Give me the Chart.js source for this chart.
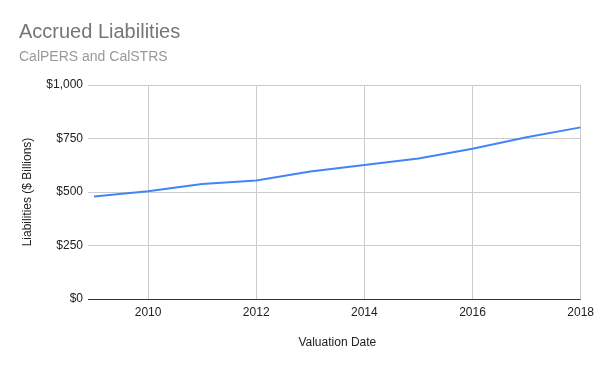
<!DOCTYPE html>
<html>
<head>
<meta charset="utf-8">
<script src="https://cdn.jsdelivr.net/npm/chart.js@4"></script>
<style>
  html, body { margin: 0; padding: 0; background: #fff; }
  #wrap { width: 600px; height: 371px; position: relative; }
</style>
</head>
<body>
<div id="wrap"><canvas id="c" width="600" height="371"></canvas></div>
<script>
const titleText = "Accrued Liabilities";
const subtitleText = "CalPERS and CalSTRS";
const xAxisTitle = "Valuation Date";
const yAxisTitle = "Liabilities ($ Billions)";
const years = [2009, 2010, 2011, 2012, 2013, 2014, 2015, 2016, 2017, 2018];
const liabilities = [479, 503, 537, 554, 596, 626, 657, 702, 756, 802];
const xTicks = [2010, 2012, 2014, 2016, 2018];
const yTicks = [0, 250, 500, 750, 1000];

const FONT = "'Liberation Sans', Arial, sans-serif";

const titlePlugin = {
  id: 'headerText',
  afterDraw(chart) {
    const ctx = chart.ctx;
    ctx.save();
    ctx.textBaseline = 'alphabetic';
    ctx.textAlign = 'left';
    ctx.fillStyle = '#757575';
    ctx.font = "20px " + FONT;
    ctx.fillText(titleText, 19, 37.5);
    ctx.fillStyle = '#999999';
    ctx.font = "14px " + FONT;
    ctx.fillText(subtitleText, 19, 61);
    ctx.restore();
  }
};

new Chart(document.getElementById('c'), {
  type: 'line',
  data: {
    datasets: [{
      data: years.map((y, i) => ({ x: y, y: liabilities[i] })),
      borderColor: '#4285F4',
      borderWidth: 2,
      pointRadius: 0,
      tension: 0,
      fill: false
    }]
  },
  options: {
    responsive: false,
    animation: false,
    devicePixelRatio: 1,
    layout: { padding: { top: 85, right: 18, left: 0, bottom: 0 } },
    plugins: { legend: { display: false }, tooltip: { enabled: false }, title: { display: false } },
    scales: {
      x: {
        type: 'linear',
        min: years[0],
        max: years[years.length - 1],
        afterBuildTicks(scale) { scale.ticks = xTicks.map(v => ({ value: v })); },
        afterFit(scale) { scale.height = 72; },
        grid: { color: '#cccccc', drawTicks: false, lineWidth: 1 },
        border: { display: false },
        ticks: {
          color: '#222222',
          font: { family: FONT, size: 12 },
          padding: 6,
          maxRotation: 0,
          callback: v => String(v)
        },
        title: {
          display: true,
          text: xAxisTitle,
          color: '#222222',
          font: { family: FONT, size: 12 },
          padding: { top: 0, bottom: 21 }
        }
      },
      y: {
        min: 0,
        max: 1000,
        afterBuildTicks(scale) { scale.ticks = yTicks.map(v => ({ value: v })); },
        afterFit(scale) { scale.width = 94; },
        grid: {
          color: ctx => (ctx.tick && ctx.tick.value === 0) ? '#333333' : '#cccccc',
          drawTicks: true,
          tickLength: 6,
          lineWidth: 1
        },
        border: { display: false },
        ticks: {
          color: '#222222',
          font: { family: FONT, size: 12 },
          padding: 5,
          callback: v => '$' + Number(v).toLocaleString('en-US')
        },
        title: {
          display: true,
          text: yAxisTitle,
          color: '#222222',
          font: { family: FONT, size: 12 },
          padding: { top: 20, bottom: 0 }
        }
      }
    }
  },
  plugins: [titlePlugin]
});
</script>
</body>
</html>
